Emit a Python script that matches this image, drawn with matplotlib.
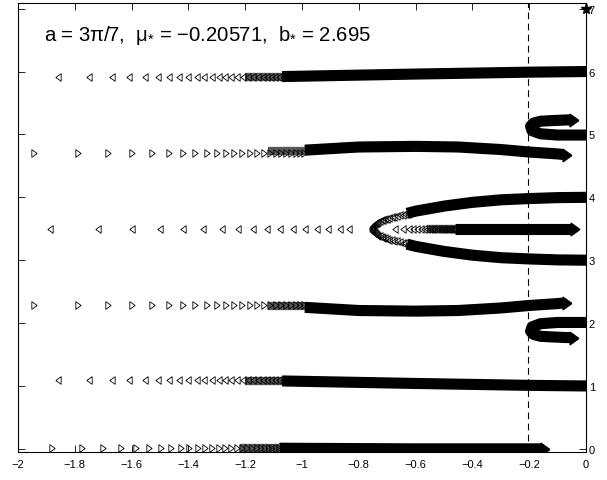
import numpy as np
import matplotlib
matplotlib.use('Agg')
import matplotlib.pyplot as plt

plt.rcParams['font.family'] = ['Liberation Sans', 'DejaVu Sans']
plt.rcParams['mathtext.fontset'] = 'custom'
plt.rcParams['mathtext.rm'] = 'Liberation Sans'
plt.rcParams['mathtext.default'] = 'regular'

mu_star = -0.20571

# sparse markers (x positions), one list per branch
row0_x = [-1.881, -1.776, -1.700, -1.637, -1.586, -1.539, -1.498, -1.461, -1.427,
          -1.397, -1.367, -1.342, -1.316, -1.292, -1.270, -1.249, -1.229, -1.210,
          -1.192, -1.175, -1.159, -1.144, -1.130, -1.117, -1.104, -1.092, -1.080]
row0_y = 0.02
row1_x = [-1.858, -1.750, -1.670, -1.608, -1.553, -1.506, -1.468, -1.433, -1.400,
          -1.371, -1.344, -1.318, -1.294, -1.271, -1.249, -1.228, -1.208, -1.189,
          -1.171, -1.154, -1.138, -1.123, -1.108, -1.094, -1.081, -1.068]
row1_y = 1.09
row2_x = [-1.944, -1.789, -1.682, -1.597, -1.529, -1.470, -1.420, -1.377, -1.335,
          -1.300, -1.269, -1.238, -1.210, -1.183, -1.158, -1.135, -1.113, -1.092,
          -1.073, -1.055, -1.038, -1.022, -1.007, -0.993]
row2_y = 2.29
row3_x = [-1.887, -1.717, -1.600, -1.500, -1.418, -1.347, -1.283, -1.224, -1.171,
          -1.124, -1.077, -1.031, -0.989, -0.948, -0.907, -0.866, -0.836]
row3_y = 3.5
mid_x = [-0.673, -0.645, -0.625, -0.608, -0.594, -0.581, -0.570, -0.560, -0.551,
         -0.542, -0.534, -0.526, -0.519, -0.512, -0.505, -0.499, -0.493, -0.487,
         -0.481, -0.476, -0.471, -0.466, -0.461]
row4_x = row2_x
row4_y = 4.71
row6_x = row1_x
row6_y = 5.91

# vertex of the fold, upper branch (lower one is its mirror about 3.5)
vert_x = [-0.755, -0.754, -0.752, -0.750, -0.747, -0.744, -0.740, -0.736, -0.731,
          -0.726, -0.720, -0.714, -0.707, -0.700, -0.692, -0.684, -0.675, -0.666,
          -0.656, -0.646, -0.636, -0.626]
vert_y = [3.50, 3.515, 3.53, 3.545, 3.56, 3.573, 3.586, 3.598, 3.61,
          3.621, 3.632, 3.642, 3.652, 3.662, 3.672, 3.682, 3.692, 3.702,
          3.712, 3.722, 3.732, 3.742]

# hatched (dark grey) stretch where the markers start to overlap
hatch_x = {0: (-1.22, -1.08), 1: (-1.20, -1.07), 2: (-1.12, -0.99),
           3: (-0.56, -0.46), 4: (-1.12, -0.99), 6: (-1.20, -1.07)}
hatch_y = {0: 0.015, 1: 1.085, 2: 2.27, 3: 3.5, 4: 4.73, 6: 5.915}

# dense (solid) parts of the branches
band0_x = [-1.08, -0.6, -0.155]
band0_y = [0.01, 0.0, 0.0]
band1_x = [-1.07, -0.6, -0.2, 0.0]
band1_y = [1.08, 1.04, 1.01, 1.0]
band2_x = [-0.99, -0.8, -0.6, -0.45, -0.3, -0.2, -0.1, -0.08]
band2_y = [2.25, 2.20, 2.19, 2.20, 2.24, 2.28, 2.31, 2.32]
band_mid_x = [-0.46, -0.2, -0.05]
band_mid_y = [3.5, 3.5, 3.5]
up_x = [-0.63, -0.6, -0.5, -0.4, -0.3, -0.2, -0.1, 0.0]
up_y = [3.745, 3.78, 3.86, 3.92, 3.96, 3.98, 3.995, 4.0]
band4_x = [-0.99, -0.8, -0.6, -0.45, -0.3, -0.2, -0.1, -0.08]
band4_y = [4.75, 4.80, 4.81, 4.80, 4.76, 4.72, 4.69, 4.68]
band6_x = [-1.07, -0.6, -0.2, 0.0]
band6_y = [5.92, 5.96, 5.99, 6.0]
hook5_x = [0.0, -0.1, -0.16, -0.19, -0.195, -0.185, -0.16, -0.12, -0.07, -0.055]
hook5_y = [4.99, 4.99, 5.01, 5.06, 5.13, 5.18, 5.21, 5.22, 5.23, 5.23]
hook2_x = hook5_x
hook2_y = [7 - v for v in hook5_y]

tips_x = [-0.143, -0.068, -0.038, -0.068, -0.044, -0.044]
tips_y = [0.0, 2.325, 3.5, 4.675, 5.23, 1.77]

xtick_vals = [-2, -1.8, -1.6, -1.4, -1.2, -1, -0.8, -0.6, -0.4, -0.2, 0]
xtick_labels = ['\u22122', '\u22121.8', '\u22121.6', '\u22121.4', '\u22121.2', '\u22121',
                '\u22120.8', '\u22120.6', '\u22120.4', '\u22120.2', '0']
ytick_vals = [0, 1, 2, 3, 4, 5, 6, 7]

left_tri = [(-0.7, 0), (0.7, 1), (0.7, -1), (-0.7, 0)]
right_tri = [(0.7, 0), (-0.7, 1), (-0.7, -1), (0.7, 0)]

fig = plt.figure(figsize=(6.07, 4.81), dpi=100)
ax = fig.add_axes([0.0297, 0.0582, 0.9357, 0.9335])

band_kw = dict(color='black', lw=8, solid_capstyle='butt', solid_joinstyle='round')
mk_kw = dict(ls='none', ms=5.5, mfc='none', mec='black', mew=0.6)

# grey hatched stretches behind the overlapping markers
for k in hatch_x:
    ax.plot(hatch_x[k], [hatch_y[k]] * 2, color='0.35', lw=6, solid_capstyle='butt')

# open triangle markers
ax.plot(row0_x, [row0_y] * len(row0_x), marker=right_tri, **mk_kw)
ax.plot(row1_x, [row1_y] * len(row1_x), marker=left_tri, **mk_kw)
ax.plot(row2_x, [row2_y] * len(row2_x), marker=right_tri, **mk_kw)
ax.plot(row3_x, [row3_y] * len(row3_x), marker=left_tri, **mk_kw)
ax.plot(mid_x, [row3_y] * len(mid_x), marker=left_tri, **mk_kw)
ax.plot(row4_x, [row4_y] * len(row4_x), marker=right_tri, **mk_kw)
ax.plot(row6_x, [row6_y] * len(row6_x), marker=left_tri, **mk_kw)
ax.plot(vert_x, vert_y, marker=left_tri, **mk_kw)
ax.plot(vert_x, [7 - v for v in vert_y], marker=left_tri, **mk_kw)

# solid bands
ax.plot(band0_x, band0_y, **band_kw)
ax.plot(band1_x, band1_y, **band_kw)
ax.plot(band2_x, band2_y, **band_kw)
ax.plot(band_mid_x, band_mid_y, **band_kw)
ax.plot(up_x, up_y, **band_kw)
ax.plot(up_x, [7 - v for v in up_y], **band_kw)
ax.plot(band4_x, band4_y, **band_kw)
ax.plot(band6_x, band6_y, **band_kw)
ax.plot(hook5_x, hook5_y, **band_kw)
ax.plot(hook2_x, hook2_y, **band_kw)
ax.plot(tips_x, tips_y, ls='none', marker=right_tri, ms=9, mfc='black', mec='black')

ax.plot([0], [7], marker='*', ms=8, color='black', clip_on=False)
ax.axvline(mu_star, color='black', lw=0.8, ls=(0, (6, 4)))

ax.text(-1.91, 6.5, 'a = 3\u03c0/7,  \u03bc$_{{*}}$ = \u22120.20571,  b$_{{*}}$ = 2.695',
        fontsize=14.6, va='baseline', ha='left')

ax.set_xlim(-2, 0)
ax.set_ylim(-0.05, 7.09)
ax.set_xticks(xtick_vals)
ax.set_xticklabels(xtick_labels)
ax.set_yticks(ytick_vals)
ax.set_yticklabels([str(v) for v in ytick_vals])
ax.tick_params(axis='x', direction='in', top=True, length=5, width=0.6, labelsize=8, pad=5)
ax.tick_params(axis='y', direction='in', left=True, right=True, labelleft=False,
               labelright=True, length=5, width=0.6, labelsize=8, pad=2)
for s in ax.spines.values():
    s.set_linewidth(0.8)

fig.savefig('out.png', dpi=100)
